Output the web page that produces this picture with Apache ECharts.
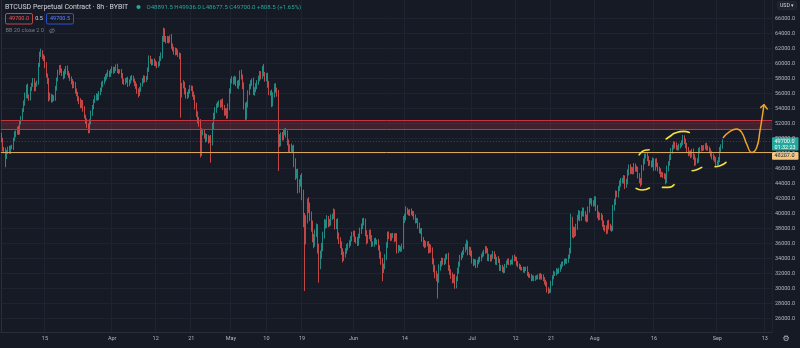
<!DOCTYPE html>
<html>
<head>
<meta charset="utf-8">
<script src="https://cdn.jsdelivr.net/npm/echarts@6/dist/echarts.min.js"></script>
<style>
  html, body { margin: 0; padding: 0; background: #161a25; }
  #chart { width: 800px; height: 348px; }
</style>
</head>
<body>
<div id="chart"></div>
<script>
// BTCUSD perpetual, 8h bars from 2021-03-04 00:00 UTC, three bars per day
const firstOpen = 50300;

const closes = [
  // Mar 4 – 8
  49800,48700,48400, 47600,48200,48700, 48300,48900,48800, 49900,50600,50900, 51300,50800,52200,
  // Mar 9 – 13
  52700,53800,54700, 55800,56900,55700, 55400,56600,57200, 57700,56700,57200, 57500,59800,61200,
  // Mar 14 – 18
  61500,61000,60700, 59800,58500,57800, 55400,55700,55200, 55600,55300,56700, 57900,58800,59500,
  // Mar 19 – 23
  59100,58700,58300, 58900,59400,58800, 58400,58100,57600, 57000,57300,56400, 56000,55300,55000,
  // Mar 24 – 28
  54400,54900,54000, 53000,52400,51800, 51000,52200,53400, 54200,55000,55400, 55700,55400,56100,
  // Mar 29 – Apr 2
  56500,57200,57500, 57900,58300,58600, 58800,58500,59000, 59300,59000,59300, 59600,59100,59000,
  // Apr 3 – 7
  59000,58400,57700, 57500,57700,57900, 57300,57600,58100, 58100,57800,57400, 57000,56400,56000,
  // Apr 8 – 12
  56600,57200,57700, 58100,57900,58100, 59200,60700,60400, 60100,60300,60100, 60000,59800,60000,
  // Apr 13 – 17
  60700,61100,63200, 64200,63400,63100, 63300,63100,63500, 62400,62000,61500, 61800,61500,61200,
  // Apr 18 – 22
  61000,56000,57100, 57300,56400,55700, 55900,56300,56700, 56700,56000,55600, 54400,53300,52500,
  // Apr 23 – 27
  52100,48100,50800, 50800,50400,50000, 50200,49800,50000, 49500,51500,53000, 53800,54400,54600,
  // Apr 28 – May 2
  54800,54500,54900, 54200,53400,53700, 53000,54200,56300, 57700,57900,57600, 58000,57400,57000,
  // May 3 – 7
  57400,58800,58200, 57000,54400,53000, 54500,56100,57000, 57400,57700,56100, 56500,57000,57500,
  // May 8 – 12
  58000,58700,58300, 59500,58600,58000, 58400,57200,56100, 56100,54700,55800, 57000,56500,56000,
  // May 13 – 17
  50000,49500,50400, 50200,50800,51000, 50600,49500,48700, 48900,48500,48700, 46800,45200,45500,
  // May 18 – 22
  43300,44000,44700, 42400,39000,36600, 39200,41500,40700, 39700,38400,36800, 36100,37300,38000,
  // May 23 – 27
  35300,33100,34600, 35500,37100,38600, 38500,39300,38800, 38800,39500,39700, 40100,38400,38900,
  // May 28 – Jun 1
  37100,36400,35800, 35000,34100,34600, 35000,35500,35800, 36100,36600,37300, 37300,36600,36500,
  // Jun 2 – 6
  36100,37000,37700, 38300,39100,38900, 37400,36400,36900, 37500,36700,36000, 36000,36400,36200,
  // Jun 7 – 11
  36200,35500,34500, 33700,32600,33000, 34100,35800,37300, 37000,36700,37100, 37100,36600,37000,
  // Jun 12 – 16
  35100,35500,35300, 35300,35600,39100, 39500,40400,40200, 40100,40300,40100, 40000,39500,39100,
  // Jun 17 – 21
  39100,38400,37700, 37700,36600,36100, 35800,36000,36000, 35100,35600,35100, 33700,32700,32000,
  // Jun 22 – 26
  31500,31200,32800, 33300,33800,33500, 33700,34200,34400, 32800,32300,31800, 31100,31500,30400,
  // Jun 27 – Jul 1
  31300,32400,33300, 34100,34500,34800, 35200,35600,36100, 34800,35200,34700, 33700,33400,33600,
  // Jul 2 – 6
  33100,33500,33800, 34000,34400,34600, 34900,35300,35100, 34000,34300,33900, 34300,34700,34300,
  // Jul 7 – 11
  33500,34000,33700, 32700,32900,32600, 32400,33000,33500, 33700,33400,33600, 33500,34200,34000,
  // Jul 12 – 16
  34000,33400,33100, 32900,32700,32700, 32400,32600,32700, 32000,31800,31700, 31300,31500,31300,
  // Jul 17 – 21
  31500,31600,31500, 31800,31500,31700, 31300,30900,30700, 29900,29700,29800, 30700,31500,32000,
  // Jul 22 – 26
  32000,32400,32300, 32500,32900,33300, 33400,33700,33600, 33700,34300,35100, 38900,37300,37800,
  // Jul 27 – 31
  37400,38200,39500, 40000,39500,40000, 40400,40000,39500, 39300,40500,41700, 41700,41500,41400,
  // Aug 1 – 5
  41900,40800,39900, 39500,39800,39500, 38700,38200,38100, 37700,38800,38300, 38100,38000,40800,
  // Aug 6 – 10
  41500,42700,42500, 43300,44000,44400, 44400,44800,43800, 44200,45500,46200, 45700,45900,45600,
  // Aug 11 – 15
  46400,46000,45900, 45100,44500,44100, 46100,47000,47700, 47700,47400,46800, 46800,46500,47100,
  // Aug 16 – 20
  46100,47000,46500, 46000,45700,45300, 45300,45100,45000, 44400,46000,46700, 47500,48400,48900,
  // Aug 21 – 25
  49300,49100,48800, 48800,49000,49200, 49500,50100,49700, 49100,48500,48100, 48100,47800,48400,
  // Aug 26 – 30
  47600,46800,47100, 47100,48400,48600, 48800,48700,48900, 49100,48800,48700, 48400,48000,47700,
  // Aug 31 – Sep 2
  47500,47200,46800, 46800,47200,48500, 48891.5,49700
];

// wick length above the body of each bar
const upperWicks = [
  500,300,200, 400,300,250, 350,200,300, 250,400,200, 300,450,250,
  300,250,400, 350,300,450, 200,300,250, 400,350,300, 250,300,400,
  500,300,250, 350,400,200, 300,450,250, 300,200,350, 250,400,300,
  350,250,300, 400,300,350, 250,300,200, 350,400,250, 300,250,350,
  400,300,250, 350,200,300, 250,400,350, 300,250,400, 350,300,250,
  300,400,250, 350,300,200, 400,250,300, 350,300,250, 300,400,200,
  250,300,350, 300,400,250, 350,300,250, 400,300,200, 250,350,300,
  300,250,400, 350,300,250, 300,400,350, 250,300,400, 350,250,300,
  300,400,500, 600,500,300, 400,350,300, 450,300,250, 350,300,400,
  300,400,350, 500,300,400, 350,300,450, 400,350,300, 250,400,350,
  400,500,600, 350,400,300, 450,300,400, 500,600,450, 400,300,350,
  300,400,350, 450,300,400, 350,500,400, 300,450,350, 400,300,350,
  450,300,400, 350,500,400, 450,350,300, 400,300,450, 350,400,300,
  400,350,300, 200,450,300, 350,400,500, 300,450,400, 350,400,300,
  500,600,450, 500,400,350, 450,500,400, 350,450,400, 500,600,450,
  500,600,450, 700,800,1100, 600,500,700, 800,600,700, 500,600,700,
  600,700,500, 600,500,700, 600,500,400, 500,400,300, 600,500,400,
  500,400,450, 500,400,350, 400,450,300, 350,400,300, 400,450,350,
  400,350,450, 400,300,350, 450,400,300, 350,400,450, 300,350,400,
  350,400,300, 450,400,350, 500,400,300, 350,400,300, 350,300,400,
  400,350,300, 350,400,600, 500,600,400, 350,300,400, 300,350,400,
  350,300,400, 350,400,300, 400,350,300, 350,400,300, 400,350,450,
  400,500,450, 400,350,300, 350,400,300, 400,350,300, 350,400,450,
  350,400,300, 400,350,300, 350,400,450, 300,400,350, 400,300,350,
  300,350,400, 300,250,350, 300,400,350, 300,350,250, 300,350,300,
  300,250,350, 300,250,300, 350,300,250, 300,350,250, 300,250,350,
  300,250,300, 250,300,200, 250,300,250, 300,250,200, 250,300,250,
  250,200,300, 250,300,250, 200,250,300, 250,300,200, 350,300,400,
  300,350,250, 300,350,300, 250,300,350, 300,250,350, 1100,700,500,
  400,450,350, 500,400,350, 450,400,350, 400,450,350, 400,350,300,
  450,400,350, 400,350,300, 350,400,300, 350,300,400, 350,300,400,
  450,400,350, 400,450,350, 400,350,300, 450,400,350, 400,350,300,
  350,300,400, 350,300,250, 400,350,300, 350,400,300, 350,300,400,
  300,350,400, 300,250,350, 300,250,300, 350,400,300, 400,350,300,
  350,300,400, 300,350,250, 300,400,350, 300,350,400, 300,350,250,
  300,350,400, 300,350,300, 350,300,250, 300,350,300, 250,300,350,
  300,250,350, 300,350,400, 350,236
];

// wick length below the body of each bar
const lowerWicks = [
  300,400,350, 1400,300,250, 300,350,200, 300,250,400, 350,300,250,
  300,350,250, 300,400,350, 350,300,250, 300,400,350, 250,300,250,
  300,400,350, 400,350,500, 450,300,400, 350,300,250, 300,250,300,
  300,350,400, 250,300,350, 300,400,350, 300,250,400, 350,300,400,
  350,300,400, 300,400,350, 300,250,300, 350,300,250, 300,350,250,
  300,250,350, 250,300,400, 350,300,250, 300,350,250, 300,350,400,
  300,350,400, 350,300,250, 400,300,250, 350,300,400, 350,400,500,
  300,350,250, 300,400,350, 250,300,400, 350,300,400, 350,400,300,
  300,350,400, 300,500,400, 350,400,300, 400,350,300, 400,350,300,
  400,3200,500, 400,500,350, 400,450,300, 350,400,450, 500,400,450,
  500,600,400, 350,400,500, 400,450,350, 2700,400,350, 400,350,300,
  350,400,300, 400,350,300, 350,300,400, 300,350,400, 350,400,300,
  400,350,300, 400,500,600, 450,350,300, 400,350,300, 350,300,400,
  300,350,400, 350,300,400, 350,400,300, 350,500,400, 300,350,400,
  4300,600,500, 450,400,350, 450,400,600, 500,400,350, 600,700,500,
  600,500,400, 600,800,6900, 700,500,600, 700,800,600, 700,500,400,
  600,2300,500, 600,500,400, 500,400,600, 500,400,350, 400,500,450,
  500,450,400, 500,600,400, 450,350,400, 350,400,300, 350,400,450,
  400,350,300, 400,350,450, 400,500,350, 300,400,450, 350,400,300,
  350,400,500, 500,1600,500, 400,300,350, 400,350,300, 350,400,300,
  400,350,300, 400,350,300, 350,400,300, 350,400,300, 350,300,400,
  350,400,300, 400,350,500, 400,300,350, 400,350,300, 450,500,600,
  500,2500,400, 400,350,300, 350,400,300, 400,450,500, 400,350,400,
  350,300,400, 350,300,400, 300,350,400, 350,300,400, 350,400,300,
  350,300,250, 300,350,250, 300,250,350, 300,350,300, 250,300,350,
  300,350,250, 350,300,400, 350,300,250, 300,250,300, 250,300,350,
  300,350,250, 300,250,300, 250,300,250, 300,350,250, 300,250,300,
  250,300,250, 300,250,300, 300,350,400, 400,400,300, 350,300,250,
  300,250,350, 300,250,300, 350,300,250, 300,250,300, 400,500,600,
  500,400,350, 400,500,450, 350,400,500, 450,400,350, 400,500,450,
  400,450,500, 400,350,400, 450,400,500, 450,350,400, 350,400,300,
  400,350,300, 350,300,400, 350,400,500, 350,300,400, 450,400,350,
  350,400,300, 400,450,500, 300,350,400, 350,400,450, 400,350,300,
  400,350,300, 350,400,450, 400,350,400, 500,300,350, 300,350,400,
  350,400,300, 400,350,300, 300,350,400, 350,400,450, 350,400,300,
  400,450,350, 400,300,350, 300,350,300, 350,400,300, 350,400,450,
  400,350,450, 400,300,350, 300,214
];

// empty 8h slots to the right of the last bar
const futureSlots = 37;

// time-scale labels: day -> text
const timeTicks = [
  ['2021-03-15', '15'], ['2021-04-01', 'Apr'], ['2021-04-12', '12'], ['2021-04-21', '21'],
  ['2021-05-01', 'May'], ['2021-05-10', '10'], ['2021-05-19', '19'], ['2021-06-01', 'Jun'],
  ['2021-06-14', '14'], ['2021-07-01', 'Jul'], ['2021-07-12', '12'], ['2021-07-21', '21'],
  ['2021-08-01', 'Aug'], ['2021-08-16', '16'], ['2021-09-01', 'Sep'], ['2021-09-13', '13']
];

// price-scale labels
const priceTicks = [26000, 28000, 30000, 32000, 34000, 36000, 38000, 40000, 42000, 44000,
  46000, 48000, 50000, 52000, 54000, 56000, 58000, 60000, 62000, 64000, 66000];

// supply zone and key level
const zoneLow = 51200;
const zoneHigh = 52500;
const keyLevel = 48207;
const lastPrice = 49700;
const countdown = '01:32:23';

// hand-drawn brackets on highs / lows, as [bar index, price]
const bracketArcs = [
  [[483.7, 47840], [486.0, 48270], [488.2, 48470], [491.3, 48530]],
  [[504.2, 49960], [507.2, 50330], [511.0, 50760], [517.3, 50970], [521.8, 50840]],
  [[481.4, 43370], [485.7, 43160], [491.5, 43430]],
  [[501.4, 43510], [505.9, 43510], [510.2, 43870]],
  [[523.9, 45730], [527.4, 45870], [531.2, 46170]],
  [[541.3, 46270], [545.1, 46400], [549.6, 46840]]
];

// projected path and its arrow head
const projection = [[547.6, 50170], [552.7, 50970], [557.7, 51290], [561.5, 50840], [565.3, 49290],
  [569.1, 48170], [572.9, 48840], [575.4, 51070], [577.4, 53290], [578.4, 54530]];
const arrowHead = [[576.0, 54170], [578.4, 54530], [580.9, 53960]];

// ---- build series data ----
const slotCount = closes.length + futureSlots;
const startTime = Date.UTC(2021, 2, 4, 0, 0, 0);
const pad = n => String(n).padStart(2, '0');
const categories = [];
for (let i = 0; i < slotCount; i++) {
  const d = new Date(startTime + i * 8 * 3600 * 1000);
  categories.push(d.getUTCFullYear() + '-' + pad(d.getUTCMonth() + 1) + '-' + pad(d.getUTCDate()) + ' ' + pad(d.getUTCHours()) + ':00');
}
const tickMap = {};
timeTicks.forEach(([day, text]) => { tickMap[day + ' 00:00'] = text; });

const candles = [];
for (let i = 0; i < slotCount; i++) {
  if (i >= closes.length) { candles.push('-'); continue; }
  const o = i === 0 ? firstOpen : closes[i - 1];
  const c = closes[i];
  const hi = Math.max(o, c) + upperWicks[i];
  const lo = Math.min(o, c) - lowerWicks[i];
  candles.push([o, c, lo, hi]);
}

const UP = '#26a69a', DOWN = '#ef5350';
const GRID = '#1f2331', BORDER = '#2a2e39', TEXT = '#b2b5be';
const FONT = 'Roboto, "Noto Sans", sans-serif';

const isTick = (idx, val) => tickMap[val] !== undefined;

const annotationSeries = [];
bracketArcs.forEach(arc => annotationSeries.push({
  type: 'line', xAxisIndex: 1, yAxisIndex: 0, data: arc, smooth: 0.6, symbol: 'none', silent: true,
  lineStyle: { color: '#f6e13a', width: 1.6, cap: 'round' }, z: 5
}));
annotationSeries.push({
  type: 'line', xAxisIndex: 1, yAxisIndex: 0, data: projection, smooth: 0.5, symbol: 'none', silent: true,
  lineStyle: { color: '#f0a22e', width: 1.5, cap: 'round' }, z: 5
});
annotationSeries.push({
  type: 'line', xAxisIndex: 1, yAxisIndex: 0, data: arrowHead, symbol: 'none', silent: true,
  lineStyle: { color: '#f0a22e', width: 1.5, cap: 'round', join: 'round' }, z: 5
});

const chart = echarts.init(document.getElementById('chart'), null, { renderer: 'canvas' });
chart.setOption({
  animation: false,
  backgroundColor: '#161a25',
  grid: { left: 0.8, right: 28, top: 0, bottom: 16, containLabel: false },
  xAxis: [{
    type: 'category', data: categories, boundaryGap: true,
    axisLine: { show: true, lineStyle: { color: BORDER } },
    axisTick: { show: false },
    axisLabel: { interval: isTick, formatter: v => tickMap[v] || '', color: TEXT, fontSize: 5.5, fontFamily: FONT, margin: 4 },
    splitLine: { show: true, interval: isTick, lineStyle: { color: GRID, width: 1 } }
  }, {
    type: 'value', min: -0.5, max: slotCount - 0.5, show: false
  }],
  yAxis: [{
    type: 'value', position: 'right', min: 24230, max: 68490,
    axisLine: { show: true, lineStyle: { color: BORDER } },
    axisTick: { show: false, customValues: priceTicks },
    axisLabel: { customValues: priceTicks, formatter: v => Number(v).toFixed(1), color: TEXT, fontSize: 5.5, fontFamily: FONT, margin: 3 },
    splitLine: { show: true, lineStyle: { color: GRID, width: 1 } }
  }],
  series: [{
    type: 'candlestick', data: candles, barWidth: 1,
    itemStyle: { color: UP, color0: DOWN, borderColor: UP, borderColor0: DOWN, borderWidth: 0.8 },
    markArea: {
      silent: true,
      itemStyle: { color: 'rgba(190,55,70,0.26)' },
      data: [[{ yAxis: zoneHigh }, { yAxis: zoneLow }]]
    },
    markLine: {
      silent: true, symbol: ['none', 'none'], label: { show: false },
      data: [
        { yAxis: zoneHigh, lineStyle: { color: '#c2343f', width: 1, type: 'solid' } },
        { yAxis: zoneLow, lineStyle: { color: '#c2343f', width: 1, type: 'solid' } },
        { yAxis: lastPrice, lineStyle: { color: 'rgba(38,166,154,0.45)', width: 1, type: [1, 2] } },
        { yAxis: keyLevel, lineStyle: { color: '#d8a75c', width: 1, type: 'solid' } }
      ]
    },
    z: 3
  }].concat(annotationSeries)
});

// header, legend rows and price-scale badges
const yLast = chart.convertToPixel({ yAxisIndex: 0 }, lastPrice);
const badgeX = 772, badgeW = 26.5;
const lastTop = yLast - 3.6;
const keyTop = lastTop + 14.6;

chart.setOption({
  graphic: [
    { type: 'text', x: 5, y: 7.5, style: { text: 'BTCUSD Perpetual Contract · 8h · BYBIT', fill: '#d1d4dc', font: '7px ' + FONT, verticalAlign: 'middle' } },
    { type: 'circle', shape: { cx: 138.5, cy: 7, r: 2.1 }, style: { fill: UP } },
    { type: 'text', x: 146.5, y: 7.5, style: { text: 'O48891.5 H49936.0 L48677.5 C49700.0 +808.5 (+1.65%)', fill: UP, font: '6.1px ' + FONT, verticalAlign: 'middle' } },

    { type: 'rect', shape: { x: 5.5, y: 13.5, width: 27, height: 10.5, r: 1.5 }, style: { fill: 'none', stroke: DOWN, lineWidth: 0.8 } },
    { type: 'text', x: 19, y: 18.9, style: { text: '49700.0', fill: DOWN, font: '5.5px ' + FONT, align: 'center', verticalAlign: 'middle' } },
    { type: 'text', x: 39, y: 18.9, style: { text: '0.5', fill: '#d1d4dc', font: '5.5px ' + FONT, align: 'center', verticalAlign: 'middle' } },
    { type: 'rect', shape: { x: 46.5, y: 13.5, width: 27, height: 10.5, r: 1.5 }, style: { fill: 'none', stroke: '#2962ff', lineWidth: 0.8 } },
    { type: 'text', x: 60, y: 18.9, style: { text: '49700.5', fill: '#5b82ff', font: '5.5px ' + FONT, align: 'center', verticalAlign: 'middle' } },

    { type: 'text', x: 5.5, y: 30.7, style: { text: 'BB 20 close 2 0', fill: '#787b86', font: '5.6px ' + FONT, verticalAlign: 'middle' } },
    { type: 'ellipse', shape: { cx: 52, cy: 30.7, rx: 2.6, ry: 1.6 }, style: { fill: 'none', stroke: '#787b86', lineWidth: 0.7 } },
    { type: 'line', shape: { x1: 50, y1: 33, x2: 54, y2: 28.4 }, style: { stroke: '#787b86', lineWidth: 0.7 } },

    { type: 'rect', shape: { x: 777.5, y: 1.5, width: 19, height: 8, r: 1.5 }, style: { fill: '#1e222d', stroke: BORDER, lineWidth: 0.6 } },
    { type: 'text', x: 787, y: 5.6, style: { text: 'USD ▾', fill: '#d1d4dc', font: '5.2px ' + FONT, align: 'center', verticalAlign: 'middle' } },

    { type: 'rect', shape: { x: badgeX, y: lastTop, width: badgeW, height: 13.2, r: 1 }, style: { fill: UP } },
    { type: 'text', x: badgeX + 2.5, y: yLast + 0.2, style: { text: lastPrice.toFixed(1), fill: '#ffffff', font: '5.5px ' + FONT, verticalAlign: 'middle' } },
    { type: 'text', x: badgeX + 2.5, y: yLast + 6.2, style: { text: countdown, fill: '#ffffff', font: '5.5px ' + FONT, verticalAlign: 'middle' } },

    { type: 'rect', shape: { x: badgeX, y: keyTop, width: badgeW, height: 7.8, r: 1 }, style: { fill: '#f4c67c' } },
    { type: 'text', x: badgeX + 2.5, y: keyTop + 4, style: { text: keyLevel.toFixed(1), fill: '#131722', font: '5.5px ' + FONT, verticalAlign: 'middle' } },

    { type: 'text', x: 786, y: 338.5, style: { text: '⚙', fill: TEXT, font: '8px "DejaVu Sans"', align: 'center', verticalAlign: 'middle' } }
  ]
});
</script>
</body>
</html>
